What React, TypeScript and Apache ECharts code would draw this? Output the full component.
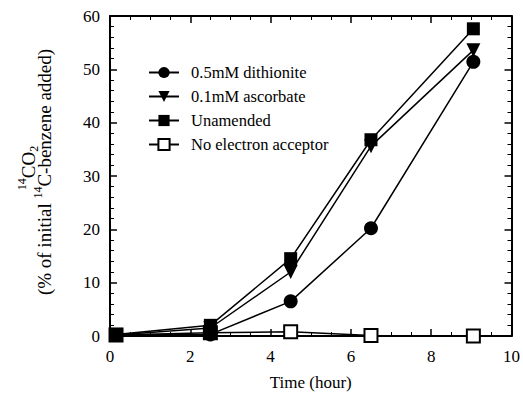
import React, { useEffect, useRef } from "react";
import * as echarts from "echarts";

const seriesNames = ["0.5mM dithionite", "0.1mM ascorbate", "Unamended", "No electron acceptor"];
const dithionite: [number, number][] = [[0.15, 0.2], [2.5, 0.3], [4.5, 6.5], [6.5, 20.2], [9.05, 51.4]];
const ascorbate: [number, number][] = [[0.15, 0.2], [2.5, 1.5], [4.5, 12.0], [6.5, 35.6], [9.05, 53.6]];
const unamended: [number, number][] = [[0.15, 0.3], [2.5, 2.0], [4.5, 14.5], [6.5, 36.8], [9.05, 57.6]];
const noAcceptor: [number, number][] = [[0.15, 0.2], [2.5, 0.6], [4.5, 0.8], [6.5, 0.1], [9.05, 0.0]];

const FONT = "Liberation Serif";
const TRI_DOWN = "path://M0,0 L10,0 L5,9 Z";

export default function App() {
  const ref = useRef<HTMLDivElement>(null);
  useEffect(() => {
    if (!ref.current) return;
    const chart = echarts.init(ref.current, null, { renderer: "svg" });
    const axisCommon = {
      axisLine: { show: true, onZero: false, lineStyle: { color: "#000", width: 2 } },
      axisTick: { show: true, inside: true, length: 7, lineStyle: { color: "#000", width: 1.5 } },
      minorTick: { show: true, length: 4, lineStyle: { color: "#000", width: 1 } },
      splitLine: { show: false },
    };
    const mkSeries = (name: string, data: [number, number][], symbol: string, size: number, fill: string, border: number, z: number) => ({
      name,
      type: "line",
      data,
      symbol,
      symbolSize: size,
      showAllSymbol: true,
      lineStyle: { color: "#000", width: 1.5 },
      itemStyle: { color: fill, borderColor: "#000", borderWidth: border },
      z,
    });
    const titleRich = {
      n: { fontFamily: FONT, fontSize: 19, fill: "#000", color: "#000", lineHeight: 24, verticalAlign: "middle" },
      sup: { fontFamily: FONT, fontSize: 12, fill: "#000", color: "#000", lineHeight: 24, verticalAlign: "top" },
      sub: { fontFamily: FONT, fontSize: 12, fill: "#000", color: "#000", lineHeight: 24, verticalAlign: "bottom" },
    };
    chart.setOption({
      animation: false,
      backgroundColor: "#fff",
      textStyle: { fontFamily: FONT },
      grid: { left: 110, right: 8, top: 16, bottom: 58, containLabel: false },
      legend: {
        orient: "vertical",
        left: 143,
        top: 59,
        itemWidth: 30,
        itemHeight: 14,
        itemGap: 7,
        textStyle: { fontFamily: FONT, fontSize: 16.5, color: "#000", padding: [0, 0, 0, 7] },
        data: seriesNames,
      },
      xAxis: [
        {
          type: "value", min: 0, max: 10, interval: 2, position: "bottom",
          ...axisCommon,
          minorTick: { ...axisCommon.minorTick, splitNumber: 4 },
          axisLabel: { color: "#000", fontFamily: FONT, fontSize: 17, margin: 12 },
          name: "Time (hour)", nameLocation: "middle", nameGap: 38,
          nameTextStyle: { color: "#000", fontFamily: FONT, fontSize: 17 },
        },
        {
          type: "value", min: 0, max: 10, interval: 2, position: "top",
          ...axisCommon,
          minorTick: { ...axisCommon.minorTick, splitNumber: 4 },
          axisLabel: { show: false },
        },
      ],
      yAxis: [
        {
          type: "value", min: 0, max: 60, interval: 10, position: "left",
          ...axisCommon,
          minorTick: { ...axisCommon.minorTick, splitNumber: 5 },
          axisLabel: { color: "#000", fontFamily: FONT, fontSize: 17, margin: 10 },
        },
        {
          type: "value", min: 0, max: 60, interval: 10, position: "right",
          ...axisCommon,
          minorTick: { ...axisCommon.minorTick, splitNumber: 5 },
          axisLabel: { show: false },
        },
      ],
      graphic: [
        {
          type: "text",
          x: 28,
          y: 168,
          rotation: Math.PI / 2,
          style: {
            text: "{sup|14}{n|CO}{sub|2}",
            rich: titleRich,
            fontFamily: FONT,
            align: "center",
            verticalAlign: "middle",
            textAlign: "center",
            textVerticalAlign: "middle",
          },
        },
        {
          type: "text",
          x: 44,
          y: 172,
          rotation: Math.PI / 2,
          style: {
            text: "{n|(% of initial }{sup|14}{n|C-benzene added)}",
            rich: titleRich,
            fontFamily: FONT,
            align: "center",
            verticalAlign: "middle",
            textAlign: "center",
            textVerticalAlign: "middle",
          },
        },
      ],
      series: [
        mkSeries(seriesNames[3], noAcceptor, "rect", 13, "#fff", 2, 2),
        mkSeries(seriesNames[0], dithionite, "circle", 14, "#000", 0, 3),
        mkSeries(seriesNames[1], ascorbate, TRI_DOWN, 14, "#000", 0, 4),
        mkSeries(seriesNames[2], unamended, "rect", 13, "#000", 0, 5),
      ],
    });
    return () => chart.dispose();
  }, []);
  return <div ref={ref} style={{ width: 523, height: 396, position: "absolute", left: 0, top: 0 }} />;
}
